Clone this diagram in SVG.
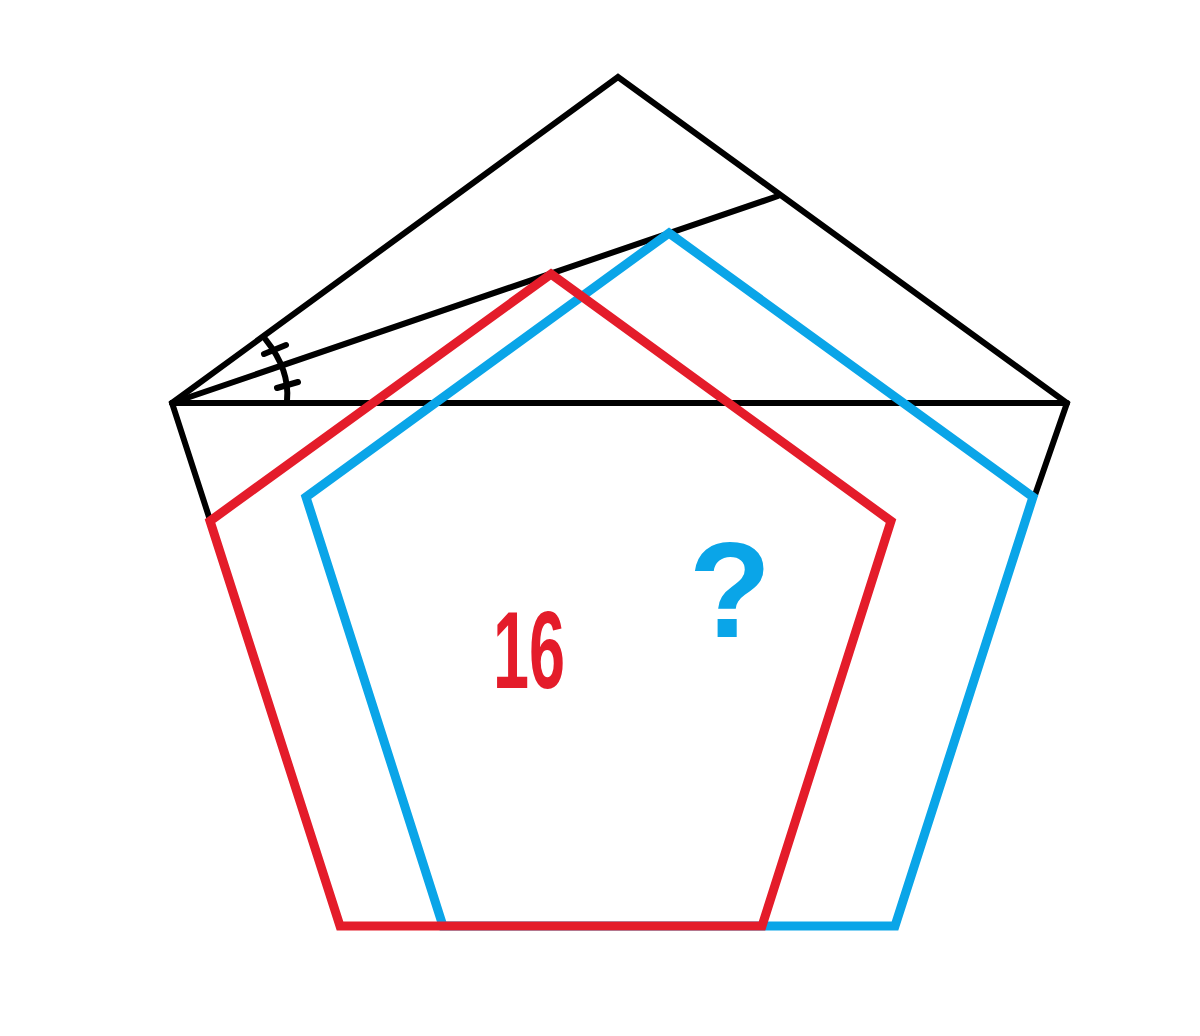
<svg xmlns="http://www.w3.org/2000/svg" width="1200" height="1036" viewBox="0 0 1200 1036">
<style>
.blk{fill:none;stroke:#000;stroke-width:6;stroke-linejoin:miter;stroke-linecap:round}
.blue{fill:none;stroke:#0aa5e8;stroke-width:9;stroke-linejoin:miter}
.red{fill:none;stroke:#e41c2a;stroke-width:9;stroke-linejoin:miter}
.lbl{font-family:"Liberation Sans",Arial,sans-serif;font-weight:bold}
</style>
<rect width="1200" height="1036" fill="#fff"/>
<g id="black-figure">
<path class="blk" d="M210,520 L172,403 L618,77 L1067,403 L1035,495"/>
<path class="blk" d="M172,403 L1067,403"/>
<path class="blk" d="M172,403 L778,196"/>
<path class="blk" d="M266,340 Q290,370 287,401"/>
<path class="blk" d="M264,354 L286,345"/>
<path class="blk" d="M277,388 L298,382"/>
</g>
<g id="blue-pentagon">
<path class="blue" d="M669,233 L1033,497 L895,926 L443,926 L306,497 Z"/>
</g>
<g id="red-pentagon">
<path class="red" d="M551,274 L891,521 L762,926 L340,926 L210,521 Z"/>
</g>
<g id="labels">
<text class="lbl" x="493" y="688" font-size="110" fill="#e41c2a" textLength="72" lengthAdjust="spacingAndGlyphs">16</text>
<text class="lbl" x="730" y="637" font-size="135" fill="#0aa5e8" text-anchor="middle">?</text>
</g>
</svg>
